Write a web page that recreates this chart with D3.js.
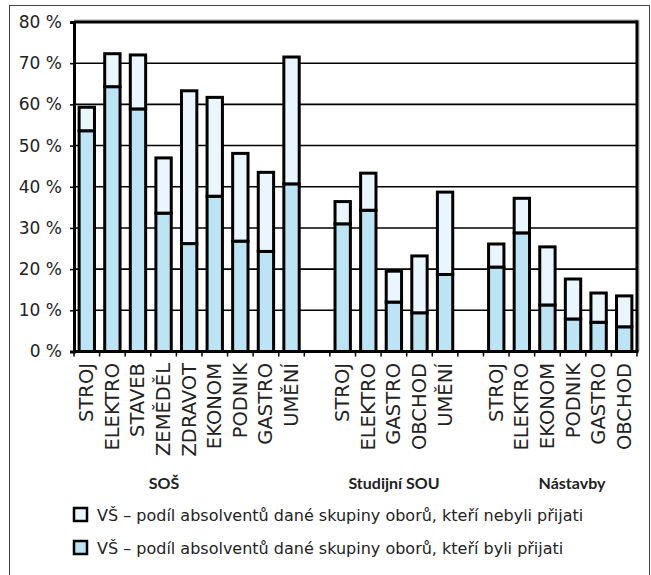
<!DOCTYPE html>
<html><head><meta charset="utf-8">
<script src="https://cdn.jsdelivr.net/npm/d3@7"></script>
<style>
html,body{margin:0;padding:0;background:#fff;}
text{font-family:"DejaVu Sans",sans-serif;font-weight:400;fill:#222;}
</style></head>
<body><svg id="c" width="651" height="575"></svg>
<script>
const groups = ["SOŠ", "Studijní SOU", "Nástavby"];
const sosCats = ["STROJ","ELEKTRO","STAVEB","ZEMĚDĚL","ZDRAVOT","EKONOM","PODNIK","GASTRO","UMĚNÍ"];
const sosAccepted = [53.6, 64.3, 58.9, 33.6, 26.2, 37.7, 26.8, 24.3, 40.7];
const sosRejected = [5.7, 8.0, 13.1, 13.4, 37.1, 24.0, 21.3, 19.2, 30.8];
const souCats = ["STROJ","ELEKTRO","GASTRO","OBCHOD","UMĚNÍ"];
const souAccepted = [31.0, 34.3, 12.0, 9.4, 18.7];
const souRejected = [5.4, 9.0, 7.5, 13.8, 20.0];
const nasCats = ["STROJ","ELEKTRO","EKONOM","PODNIK","GASTRO","OBCHOD"];
const nasAccepted = [20.5, 28.8, 11.3, 7.9, 7.1, 6.0];
const nasRejected = [5.6, 8.4, 14.1, 9.7, 7.1, 7.5];
const yTicks = [0, 10, 20, 30, 40, 50, 60, 70, 80];
const legendLabels = [
  "VŠ – podíl absolventů dané skupiny oborů, kteří nebyli přijati",
  "VŠ – podíl absolventů dané skupiny oborů, kteří byli přijati"
];

const rows = [];
const domain = [];
function addGroup(g, cats, acc, rej) {
  cats.forEach((c, i) => {
    const key = g + "|" + c;
    domain.push(key);
    rows.push({key, cat: c, group: g, acc: acc[i], rej: rej[i]});
  });
}
addGroup(groups[0], sosCats, sosAccepted, sosRejected);
domain.push("gap1");
addGroup(groups[1], souCats, souAccepted, souRejected);
domain.push("gap2");
addGroup(groups[2], nasCats, nasAccepted, nasRejected);

const L = 74, R = 637, T = 22, B = 351.5;
const svg = d3.select("#c");
const x = d3.scaleBand().domain(domain).range([L, R]).paddingInner(0.4).paddingOuter(0.2);
const y = d3.scaleLinear().domain([0, 80]).range([B, T]);

const darkC = "#bde4f5", lightC = "#e9f6fd";
const textC = "#555";

// outer frame
svg.append("rect").attr("x", 9.5).attr("y", 5.5).attr("width", 640).attr("height", 580)
  .attr("fill", "none").attr("stroke", "#444").attr("stroke-width", 1);

// gridlines
svg.append("g").selectAll("line").data(yTicks.filter(v => v > 0 && v < 80)).join("line")
  .attr("x1", L).attr("x2", R).attr("y1", d => y(d)).attr("y2", d => y(d))
  .attr("stroke", "#000").attr("stroke-width", 1.6);

// plot border shadow + top/right lines
svg.append("line").attr("x1", L).attr("x2", R + 2).attr("y1", y(80) - 2).attr("y2", y(80) - 2)
  .attr("stroke", "#aaa").attr("stroke-width", 1);
svg.append("line").attr("x1", R + 2).attr("x2", R + 2).attr("y1", y(80) - 2).attr("y2", B)
  .attr("stroke", "#aaa").attr("stroke-width", 1);
svg.append("line").attr("x1", L).attr("x2", R).attr("y1", y(80)).attr("y2", y(80))
  .attr("stroke", "#000").attr("stroke-width", 3);
svg.append("line").attr("x1", R).attr("x2", R).attr("y1", y(80) - 1.5).attr("y2", B)
  .attr("stroke", "#000").attr("stroke-width", 3);

// bars
const bars = svg.append("g");
bars.selectAll("rect.acc").data(rows).join("rect").attr("class", "acc")
  .attr("x", d => x(d.key)).attr("width", x.bandwidth())
  .attr("y", d => y(d.acc)).attr("height", d => y(0) - y(d.acc))
  .attr("fill", darkC).attr("stroke", "#000").attr("stroke-width", 3);
bars.selectAll("rect.rej").data(rows).join("rect").attr("class", "rej")
  .attr("x", d => x(d.key)).attr("width", x.bandwidth())
  .attr("y", d => y(d.acc + d.rej)).attr("height", d => y(d.acc) - y(d.acc + d.rej))
  .attr("fill", lightC).attr("stroke", "#000").attr("stroke-width", 3);

// y axis
const yAxis = d3.axisLeft(y).tickValues(yTicks).tickSize(4).tickFormat(d => d + " %");
const ya = svg.append("g").attr("transform", `translate(${L},0)`).call(yAxis);
ya.select(".domain").attr("stroke", "#000").attr("stroke-width", 3);
ya.selectAll(".tick line").attr("stroke", "#000").attr("stroke-width", 1.5);
ya.selectAll(".tick text").attr("x", -12).attr("font-size", 17).attr("fill", textC)
  .style("font-family", "'DejaVu Sans', sans-serif").style("font-weight", 400);

// x axis: ticks at band boundaries
const step = x.step();
const bounds = domain.map(k => x(k) - step * x.paddingInner() / 2);
bounds.push(R);
const xa = svg.append("g");
xa.append("line").attr("x1", L).attr("x2", R + 1.5).attr("y1", B).attr("y2", B)
  .attr("stroke", "#000").attr("stroke-width", 3);
xa.selectAll("line.t").data(bounds).join("line").attr("class", "t")
  .attr("x1", d => d).attr("x2", d => d).attr("y1", B).attr("y2", B + 5)
  .attr("stroke", "#000").attr("stroke-width", 1.5);

// category labels
svg.append("g").selectAll("text").data(rows).join("text")
  .attr("transform", d => `translate(${x(d.key) + x.bandwidth() / 2 + 6.5},363) rotate(-90)`)
  .attr("text-anchor", "end").attr("font-size", 19.5).attr("fill", textC)
  .text(d => d.cat);

// group labels
const groupX = [164, 394, 572];
svg.append("g").selectAll("text").data(groups).join("text")
  .attr("x", (d, i) => groupX[i]).attr("y", 489).attr("text-anchor", "middle")
  .attr("font-size", 16).attr("fill", "#111")
  .style("font-family", "Lato, sans-serif").style("font-weight", "bold")
  .text(d => d);

// legend
const lg = svg.append("g");
const legendFill = [lightC, darkC];
legendLabels.forEach((t, i) => {
  const yy = 515 + i * 33;
  lg.append("rect").attr("x", 74).attr("y", yy - 7).attr("width", 13).attr("height", 13)
    .attr("fill", legendFill[i]).attr("stroke", "#000").attr("stroke-width", 2.5);
  lg.append("text").attr("x", 97).attr("y", yy).attr("dy", "0.35em")
    .attr("font-size", 16).attr("fill", textC).text(t);
});
</script></body></html>
